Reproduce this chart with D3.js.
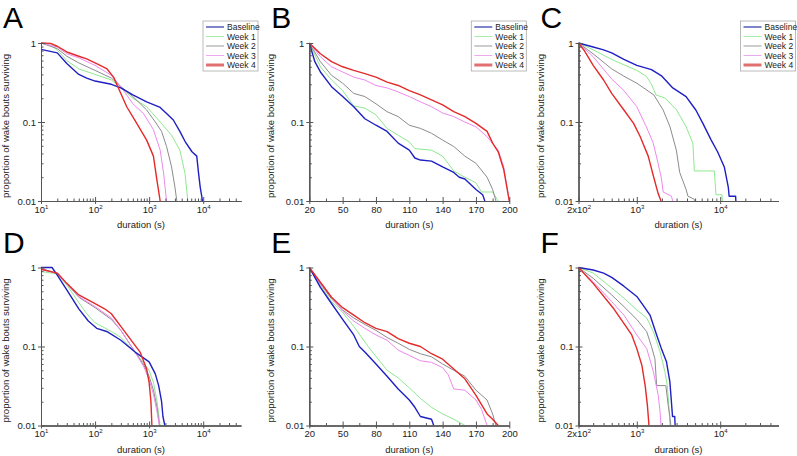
<!DOCTYPE html>
<html>
<head>
<meta charset="utf-8">
<script src="https://cdn.jsdelivr.net/npm/d3@7"></script>
<style>
  body { margin: 0; background: #fff; }
  svg { font-family: "Liberation Sans", Arial, sans-serif; }
</style>
</head>
<body>
<svg width="797" height="456"></svg>
<script>
// series names shared by every panel
const seriesNames = ["Baseline", "Week 1", "Week 2", "Week 3", "Week 4"];

// panel A: all wake bouts, log duration
const aBaseline = [[10,0.83],[20,0.75],[30,0.55],[50,0.4],[70,0.36],[100,0.33],[200,0.3],[300,0.27],[500,0.22],[900,0.18],[1600,0.153],[2100,0.128],[2800,0.106],[3700,0.076],[4600,0.057],[6200,0.042],[7600,0.037],[8200,0.0225],[8800,0.015],[9400,0.0114],[9700,0.01]];
const aWeek1 = [[10,1],[15,0.94],[20,0.81],[30,0.6],[50,0.47],[100,0.4],[200,0.34],[300,0.27],[500,0.2],[900,0.156],[1600,0.1],[2600,0.068],[3700,0.044],[4600,0.0225],[5000,0.013],[5200,0.01]];
const aWeek2 = [[10,1],[20,0.85],[30,0.68],[50,0.56],[100,0.45],[200,0.36],[300,0.28],[500,0.21],[900,0.142],[1300,0.1],[1700,0.076],[2100,0.049],[2600,0.027],[3000,0.015],[3250,0.01]];
const aWeek3 = [[10,1],[20,0.89],[30,0.73],[50,0.65],[100,0.52],[200,0.39],[300,0.28],[500,0.17],[785,0.128],[1200,0.08],[1600,0.044],[1850,0.0225],[2100,0.01]];
const aWeek4 = [[10,1],[15,0.99],[20,0.91],[30,0.77],[50,0.68],[70,0.63],[107,0.55],[164,0.475],[220,0.37],[270,0.27],[385,0.156],[590,0.096],[900,0.059],[1200,0.037],[1400,0.018],[1600,0.01]];

// panel B: bouts 20-200 s
const bBaseline = [[20,1],[25,0.58],[30,0.43],[40,0.28],[50,0.21],[60,0.156],[70,0.11],[80,0.091],[90,0.076],[100,0.054],[110,0.044],[115,0.035],[120,0.033],[130,0.032],[140,0.027],[150,0.023],[155,0.02],[160,0.019],[170,0.014],[176,0.012],[178,0.01]];
const bWeek1 = [[20,1],[30,0.5],[40,0.34],[50,0.25],[60,0.16],[70,0.15],[80,0.123],[90,0.083],[100,0.068],[110,0.056],[115,0.046],[130,0.044],[140,0.037],[150,0.024],[160,0.02],[170,0.017],[175,0.013],[185,0.013],[190,0.01]];
const bWeek2 = [[20,1],[30,0.58],[40,0.39],[50,0.31],[60,0.23],[70,0.21],[80,0.17],[90,0.135],[100,0.117],[110,0.091],[120,0.083],[130,0.072],[140,0.059],[150,0.049],[160,0.037],[170,0.03],[180,0.02],[185,0.014],[188,0.01]];
const bWeek3 = [[20,1],[30,0.67],[40,0.5],[50,0.43],[60,0.37],[70,0.34],[80,0.29],[90,0.27],[100,0.24],[110,0.21],[120,0.18],[130,0.156],[140,0.13],[150,0.117],[160,0.1],[170,0.087],[180,0.065],[190,0.044],[195,0.027],[200,0.01]];
const bWeek4 = [[20,1],[30,0.73],[40,0.58],[50,0.5],[60,0.45],[70,0.41],[80,0.37],[90,0.32],[100,0.29],[110,0.25],[120,0.22],[130,0.19],[140,0.165],[150,0.135],[160,0.117],[170,0.096],[180,0.076],[185,0.054],[190,0.042],[195,0.025],[200,0.01]];

// panel C: bouts longer than 200 s
const cBaseline = [[200,1],[300,0.89],[400,0.82],[500,0.75],[700,0.62],[1000,0.52],[1500,0.46],[2000,0.38],[2700,0.27],[3900,0.21],[5100,0.142],[6200,0.096],[7800,0.059],[9300,0.042],[11200,0.027],[12500,0.015],[12800,0.0115],[15300,0.0115],[15400,0.01]];
const cWeek1 = [[200,1],[300,0.82],[500,0.62],[700,0.53],[1000,0.45],[1300,0.38],[1500,0.3],[1700,0.22],[2200,0.2],[3000,0.142],[3900,0.087],[4700,0.054],[4900,0.024],[8500,0.024],[8900,0.012],[10500,0.012],[10600,0.01]];
const cWeek2 = [[200,1],[300,0.73],[500,0.47],[700,0.38],[1000,0.31],[1600,0.22],[2070,0.142],[2500,0.087],[2980,0.044],[3270,0.023],[3900,0.014],[4100,0.0115],[4900,0.0105],[4950,0.01]];
const cWeek3 = [[200,1],[300,0.67],[500,0.35],[700,0.25],[1000,0.156],[1300,0.087],[1575,0.054],[1800,0.03],[1980,0.019],[2070,0.013],[2600,0.0115],[2700,0.01]];
const cWeek4 = [[200,1],[233,0.81],[300,0.52],[400,0.34],[500,0.23],[700,0.142],[915,0.096],[1100,0.065],[1370,0.037],[1575,0.021],[1800,0.0125],[1950,0.01]];

// panel D
const dBaseline = [[10,1],[16,1],[20,0.8],[30,0.52],[50,0.3],[75,0.21],[107,0.17],[164,0.155],[300,0.12],[550,0.085],[1000,0.064],[1300,0.045],[1500,0.032],[1700,0.02],[1800,0.013],[1950,0.01]];
const dWeek1 = [[10,0.89],[20,0.83],[30,0.6],[50,0.36],[70,0.26],[100,0.2],[200,0.155],[300,0.13],[550,0.085],[1000,0.05],[1200,0.035],[1400,0.02],[1500,0.014],[1600,0.01]];
const dWeek2 = [[10,0.97],[20,0.84],[30,0.62],[50,0.42],[100,0.31],[200,0.22],[300,0.16],[550,0.085],[800,0.058],[1000,0.042],[1200,0.028],[1400,0.017],[1550,0.01]];
const dWeek3 = [[10,0.95],[20,0.84],[30,0.62],[50,0.43],[100,0.32],[200,0.23],[300,0.16],[550,0.085],[800,0.055],[1000,0.038],[1200,0.025],[1400,0.015],[1550,0.01]];
const dWeek4 = [[10,0.95],[20,0.85],[30,0.63],[50,0.45],[100,0.35],[150,0.3],[200,0.26],[340,0.16],[680,0.085],[900,0.052],[1000,0.035],[1080,0.02],[1125,0.01]];

// panel E
const eBaseline = [[20,1],[25,0.75],[30,0.56],[40,0.35],[50,0.22],[60,0.14],[65,0.1],[70,0.085],[80,0.06],[90,0.042],[100,0.029],[110,0.021],[115,0.017],[120,0.013],[130,0.012],[132,0.01]];
const eWeek1 = [[20,1],[30,0.59],[40,0.37],[50,0.27],[60,0.18],[73,0.1],[80,0.075],[90,0.05],[100,0.04],[110,0.03],[120,0.022],[130,0.017],[140,0.014],[150,0.012],[160,0.01]];
const eWeek2 = [[20,1],[30,0.62],[40,0.4],[50,0.29],[60,0.23],[70,0.19],[80,0.16],[90,0.13],[100,0.11],[110,0.092],[120,0.081],[130,0.074],[140,0.06],[150,0.05],[160,0.042],[170,0.028],[180,0.021],[185,0.014],[188,0.01]];
const eWeek3 = [[20,1],[30,0.62],[40,0.42],[50,0.28],[60,0.21],[70,0.17],[80,0.14],[90,0.12],[100,0.09],[110,0.077],[120,0.066],[130,0.063],[140,0.054],[145,0.044],[150,0.029],[160,0.028],[170,0.021],[175,0.016],[180,0.01]];
const eWeek4 = [[20,1],[30,0.65],[40,0.42],[50,0.31],[60,0.25],[70,0.2],[80,0.17],[90,0.154],[100,0.126],[110,0.11],[120,0.1],[130,0.081],[140,0.069],[150,0.052],[160,0.039],[170,0.024],[180,0.014],[185,0.012],[190,0.01]];

// panel F
const fBaseline = [[200,1],[300,0.93],[400,0.85],[500,0.75],[700,0.58],[1000,0.43],[1200,0.33],[1440,0.25],[1730,0.14],[2000,0.09],[2270,0.064],[2490,0.036],[2600,0.02],[2680,0.013],[2850,0.013],[2880,0.01]];
const fWeek1 = [[200,1],[300,0.85],[500,0.55],[700,0.41],[1000,0.29],[1315,0.23],[1580,0.154],[1900,0.086],[2170,0.048],[2320,0.032],[2450,0.015],[2500,0.01]];
const fWeek2 = [[200,1],[300,0.73],[500,0.45],[700,0.32],[1000,0.22],[1315,0.154],[1500,0.1],[1650,0.07],[1730,0.032],[2230,0.032],[2380,0.018],[2490,0.013],[2560,0.01]];
const fWeek3 = [[200,1],[300,0.66],[500,0.37],[700,0.25],[830,0.19],[1000,0.14],[1315,0.094],[1580,0.048],[1810,0.024],[1900,0.015],[1950,0.01]];
const fWeek4 = [[200,1],[300,0.63],[530,0.3],[690,0.2],[870,0.14],[1000,0.094],[1150,0.058],[1260,0.032],[1340,0.018],[1400,0.01]];

// tick values
const yMajor = [1, 0.1, 0.01];
const logTicksA = [10, 100, 1000, 10000];
const linTicks = [20, 50, 80, 110, 140, 170, 200];
const logTicksC = [200, 1000, 10000];

// styles
const lineColors = ["#1f1fc4", "#90e890", "#8c8c8c", "#ee88ee", "#e42a2a"];
const lineWidths = [1.4, 1, 1, 1, 1.4];
const legendColors = ["#2a35a8", "#a8eea8", "#9a9a9a", "#eeaaee", "#e27070"];
const legendWidths = [1.2, 1, 1, 1, 3];
const axisColor = "#555";

const svg = d3.select("svg");

const colX = [41, 309.3, 578.5];
const rowY = [43, 267.5];
const yTitleOffset = [-32, -35, -34.5];
const plotW = 200;
const plotH = 158;

const panels = [
  {letter: "A", col: 0, row: 0, kind: "logA", lines: [aBaseline, aWeek1, aWeek2, aWeek3, aWeek4], legend: true},
  {letter: "B", col: 1, row: 0, kind: "lin", lines: [bBaseline, bWeek1, bWeek2, bWeek3, bWeek4], legend: true},
  {letter: "C", col: 2, row: 0, kind: "logC", lines: [cBaseline, cWeek1, cWeek2, cWeek3, cWeek4], legend: true},
  {letter: "D", col: 0, row: 1, kind: "logA", lines: [dBaseline, dWeek1, dWeek2, dWeek3, dWeek4], legend: false},
  {letter: "E", col: 1, row: 1, kind: "lin", lines: [eBaseline, eWeek1, eWeek2, eWeek3, eWeek4], legend: false},
  {letter: "F", col: 2, row: 1, kind: "logC", lines: [fBaseline, fWeek1, fWeek2, fWeek3, fWeek4], legend: false}
];

// minor ticks on a log axis between lo and hi
function logMinor(lo, hi) {
  const out = [];
  for (let p = Math.floor(Math.log10(lo)); p <= Math.ceil(Math.log10(hi)); p++) {
    for (let m = 2; m <= 9; m++) {
      const v = m * Math.pow(10, p);
      if (v > lo * 1.0001 && v < hi * 0.9999) out.push(v);
    }
  }
  return out;
}

function drawPanel(p) {
  const x0 = colX[p.col], y0 = rowY[p.row];
  const g = svg.append("g").attr("transform", `translate(${x0},${y0})`);

  let x, majors, minors, fmt;
  if (p.kind === "lin") {
    x = d3.scaleLinear().domain([20, 200]).range([0, plotW]);
    majors = linTicks;
    minors = d3.range(35, 200, 30);
    fmt = d => [String(d), null];
  } else if (p.kind === "logA") {
    x = d3.scaleLog().domain([10, 5e4]).range([0, plotW]);
    majors = logTicksA;
    minors = logMinor(10, 5e4);
    fmt = d => ["10", String(Math.round(Math.log10(d)))];
  } else {
    x = d3.scaleLog().domain([200, 5e4]).range([0, plotW]);
    majors = logTicksC;
    minors = logMinor(200, 5e4);
    fmt = d => d === 200 ? ["2x10", "2"] : ["10", String(Math.round(Math.log10(d)))];
  }
  const y = d3.scaleLog().domain([0.01, 1]).range([plotH, 0]);

  // curves
  const line = d3.line().x(d => x(d[0])).y(d => y(d[1]));
  const order = [1, 2, 3, 0, 4];
  order.forEach(i => {
    g.append("path")
      .datum(p.lines[i])
      .attr("fill", "none")
      .attr("stroke", lineColors[i])
      .attr("stroke-width", lineWidths[i])
      .attr("stroke-linejoin", "round")
      .attr("d", line);
  });

  // x axis: labels + outward ticks
  const xa = g.append("g").attr("transform", `translate(0,${plotH})`)
    .call(d3.axisBottom(x).tickValues(majors).tickSizeInner(3).tickSizeOuter(0).tickPadding(2).tickFormat(""));
  xa.selectAll(".tick text").each(function(d) {
    const [base, sup] = fmt(d);
    const t = d3.select(this).attr("font-size", 9.5).attr("fill", "#222").attr("font-family", "Liberation Sans, Arial, sans-serif");
    t.append("tspan").text(base);
    if (sup) t.append("tspan").attr("dy", -4).attr("font-size", 6).text(sup);
  });
  // inward major and minor ticks
  g.append("g").attr("transform", `translate(0,${plotH})`)
    .call(d3.axisTop(x).tickValues(majors).tickSizeInner(4).tickSizeOuter(0).tickFormat(""));
  g.append("g").attr("transform", `translate(0,${plotH})`)
    .call(d3.axisTop(x).tickValues(minors).tickSizeInner(2.5).tickSizeOuter(0).tickFormat(""));

  // y axis
  const ya = g.append("g")
    .call(d3.axisLeft(y).tickValues(yMajor).tickSizeInner(3).tickSizeOuter(0).tickPadding(2).tickFormat(d => String(d)));
  ya.selectAll(".tick text").attr("font-size", 9.5).attr("fill", "#222").attr("font-family", "Liberation Sans, Arial, sans-serif");
  g.append("g").call(d3.axisRight(y).tickValues(yMajor).tickSizeInner(4).tickSizeOuter(0).tickFormat(""));
  g.append("g").call(d3.axisRight(y).tickValues(logMinor(0.01, 1)).tickSizeInner(2.5).tickSizeOuter(0).tickFormat(""));

  g.selectAll(".domain, .tick line").attr("stroke", axisColor).attr("stroke-width", 1);

  // axis titles
  g.append("text")
    .attr("x", plotW / 2).attr("y", plotH + 27)
    .attr("text-anchor", "middle").attr("font-size", 9.5).attr("fill", "#222")
    .text("duration (s)");
  g.append("text")
    .attr("transform", `translate(${yTitleOffset[p.col]},${plotH / 2 + 4}) rotate(-90)`)
    .attr("text-anchor", "middle").attr("font-size", 9.5).attr("fill", "#222")
    .text("proportion of wake bouts surviving");

  // panel letter
  svg.append("text")
    .attr("x", x0 - 38).attr("y", y0 - 15)
    .attr("font-size", 30).attr("fill", "#000")
    .text(p.letter);

  if (p.legend) {
    const lg = g.append("g").attr("transform", `translate(${plotW - 38},${-22})`);
    lg.append("rect").attr("width", 55).attr("height", 50)
      .attr("fill", "#fff").attr("stroke", "#aaa").attr("stroke-width", 0.8);
    seriesNames.forEach((name, i) => {
      const ry = 6 + i * 9.5;
      lg.append("line").attr("x1", 3).attr("x2", 21).attr("y1", ry).attr("y2", ry)
        .attr("stroke", legendColors[i]).attr("stroke-width", legendWidths[i]);
      lg.append("text").attr("x", 24).attr("y", ry + 3)
        .attr("font-size", 8.5).attr("fill", "#222").text(name);
    });
  }
}

panels.forEach(drawPanel);
</script>
</body>
</html>
